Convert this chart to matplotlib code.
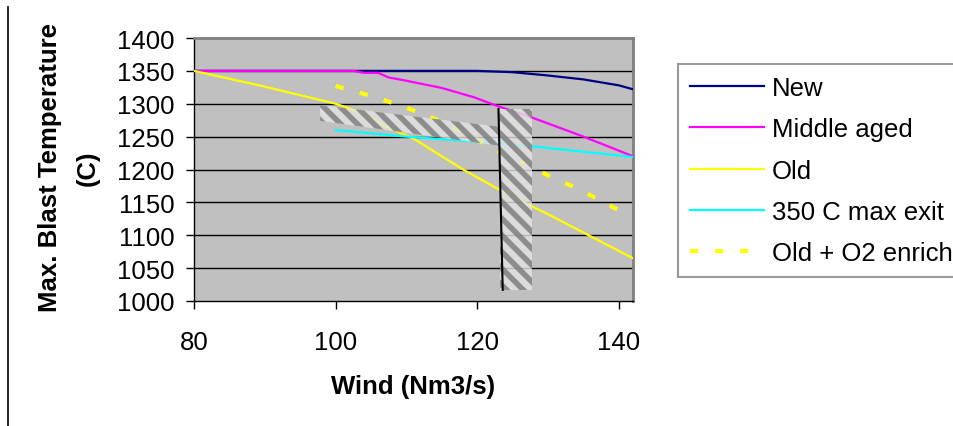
import matplotlib
matplotlib.use("Agg")
import matplotlib.pyplot as plt
from matplotlib.patches import Polygon
from matplotlib.lines import Line2D

plt.rcParams['font.family'] = ['Liberation Sans', 'DejaVu Sans']
plt.rcParams['hatch.linewidth'] = 4.0

# data
new_x = [80, 90, 100, 110, 120, 125, 130, 135, 140, 142]
new_y = [1350, 1350, 1350, 1350, 1350, 1348, 1343, 1337, 1328, 1322]

mid_x = [80, 90, 100, 102.5, 104, 106, 107.5, 110, 115, 119.5, 123, 127.5, 131, 135, 139, 142]
mid_y = [1350, 1350, 1350, 1350, 1347, 1347, 1340, 1335, 1324, 1310, 1296, 1280, 1266, 1250, 1233, 1220]

old_x = [80, 90, 100, 103.5, 107, 111, 118, 123, 127.5, 130, 142]
old_y = [1350, 1326, 1300, 1287, 1266, 1247, 1200, 1170, 1145, 1132, 1065]

exit_x = [100, 110, 123, 128, 142]
exit_y = [1260, 1250, 1240, 1235, 1219]

o2_x = [100, 104, 107, 110.5, 114, 117, 120, 123.5, 127, 130.5, 134, 137, 140]
o2_y = [1327, 1315, 1305, 1292, 1277, 1262, 1245, 1225, 1208, 1188, 1172, 1155, 1138]

# hatched zones and the black marker line
band_h = [(97.8, 1298), (123.2, 1265), (123.2, 1236), (97.8, 1274)]
band_v = [(123.2, 1292), (127.7, 1292), (127.7, 1017), (123.2, 1017)]
mark_x = [123.0, 123.6]
mark_y = [1292, 1017]

x_ticks = [80, 100, 120, 140]
y_ticks = list(range(1000, 1401, 50))

FS = 18.5

fig = plt.figure(figsize=(9.54, 4.27), dpi=100)
ax = fig.add_axes([194 / 954, 1 - 302 / 427, 439 / 954, 263 / 427])
ax.set_facecolor('#c0c0c0')

for y in y_ticks[1:-1]:
    ax.axhline(y, color='black', lw=1.0, zorder=1)

ax.plot(new_x, new_y, color='#000080', lw=1.6, label='New', zorder=3)
ax.plot(mid_x, mid_y, color='#ff00ff', lw=1.6, label='Middle aged', zorder=3)
ax.plot(old_x, old_y, color='#ffff00', lw=1.6, label='Old', zorder=3)
ax.plot(exit_x, exit_y, color='#00ffff', lw=1.6, label='350 C max exit', zorder=3)
ax.plot(o2_x, o2_y, color='#ffff00', lw=3, dashes=(2, 4), dash_capstyle='butt',
        label='Old + O2 enrich', zorder=3)

for pts in (band_h, band_v):
    ax.add_patch(Polygon(pts, closed=True, facecolor='#e4e4e4', edgecolor='#7a7a7a',
                         hatch='\\\\', lw=0, alpha=0.8, zorder=4))
ax.plot(mark_x, mark_y, color='black', lw=1.5, zorder=5)

ax.set_xlim(80, 142)
ax.set_ylim(1000, 1400)
ax.set_xticks(x_ticks)
ax.set_yticks(y_ticks)
ax.tick_params(axis='both', labelsize=FS, direction='out', length=6, width=1, color='black')
ax.tick_params(axis='x', pad=15)
ax.tick_params(axis='y', pad=8)

for side in ('top', 'right'):
    ax.spines[side].set_color('#808080')
    ax.spines[side].set_linewidth(2)
for side in ('left', 'bottom'):
    ax.spines[side].set_color('black')
    ax.spines[side].set_linewidth(1)

fig.text(413 / 954, 1 - 387 / 427, 'Wind (Nm3/s)', fontsize=FS, fontweight='bold',
         ha='center', va='center')
fig.text(50 / 954, 1 - 168 / 427, 'Max. Blast Temperature', fontsize=FS, fontweight='bold',
         rotation=90, ha='center', va='center')
fig.text(88 / 954, 1 - 168 / 427, '(C)', fontsize=FS, fontweight='bold',
         rotation=90, ha='center', va='center')

fig.add_artist(Line2D([8 / 954, 8 / 954], [0, 1 - 8 / 427], color='black', lw=1.2))

leg = fig.legend(loc='upper left', bbox_to_anchor=(678 / 954, 1 - 65 / 427),
                 bbox_transform=fig.transFigure, fontsize=FS, frameon=True,
                 fancybox=False, handlelength=2.9, handletextpad=0.3,
                 labelspacing=0.68, borderpad=0.45, borderaxespad=0)
leg.get_frame().set_edgecolor('#808080')
leg.get_frame().set_linewidth(1.5)

fig.savefig('out.png', dpi=100)
